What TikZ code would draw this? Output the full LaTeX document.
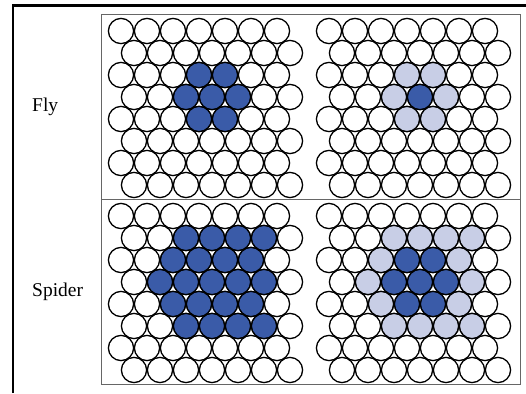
\documentclass[tikz,border=0pt]{standalone}
\usepackage{fontspec}
\setmainfont{Liberation Serif}
\definecolor{dkblue}{RGB}{58,91,168}
\definecolor{ltblue}{RGB}{200,206,230}
\newcommand\hexgrid[2]{%
  \foreach \r in {1,...,8}{\foreach \c in {1,...,7}{%
    \pgfmathsetmacro\cx{#1+(\c-1)*26+13*(1-mod(\r,2))}%
    \pgfmathsetmacro\cy{#2+(\r-1)*22}%
    \draw[disc,fill=white] (\cx,\cy) circle[radius=12.6pt];
  }}}
\newcommand\hexcells[4]{%
  \foreach \r/\c in {#3}{%
    \pgfmathsetmacro\cx{#1+(\c-1)*26+13*(1-mod(\r,2))}%
    \pgfmathsetmacro\cy{#2+(\r-1)*22}%
    \draw[disc,fill=#4] (\cx,\cy) circle[radius=12.6pt];
  }}
\begin{document}
\begin{tikzpicture}[x=1pt,y=-1pt,
  disc/.style={draw=black,line width=1.3pt},
  panel/.style={draw=black!60,line width=0.9pt,fill=white},
  rulebar/.style={line width=2.6pt,draw=black,line join=miter},
  rowlabel/.style={font=\fontsize{19.5}{22}\selectfont,anchor=base west,inner sep=0pt}]
\useasboundingbox (0,0) rectangle (526,393);
\fill[white] (0,0) rectangle (526,393);
% outer rules
\coordinate (ruleBL) at (13,393);
\coordinate (ruleTL) at (13,5.5);
\coordinate (ruleTR) at (526,5.5);
\draw[rulebar] (ruleBL) -- (ruleTL) -- (ruleTR);
% panels
\draw[panel] (101,14) rectangle (520,199);
\draw[panel] (101,199) rectangle (520,384);
% labels
\node[rowlabel] (fly) at (32,111) {Fly};
\node[rowlabel] (spider) at (32,296.5) {Spider};
% Fly left
\hexgrid{121}{31}
\hexcells{121}{31}{3/4,3/5,4/3,4/4,4/5,5/4,5/5}{dkblue}
% Fly right
\hexgrid{329}{31}
\hexcells{329}{31}{3/4,3/5,4/3,4/5,5/4,5/5}{ltblue}
\hexcells{329}{31}{4/4}{dkblue}
% Spider left
\hexgrid{121}{216}
\hexcells{121}{216}{2/3,2/4,2/5,2/6,3/3,3/4,3/5,3/6,4/2,4/3,4/4,4/5,4/6,5/3,5/4,5/5,5/6,6/3,6/4,6/5,6/6}{dkblue}
% Spider right
\hexgrid{329}{216}
\hexcells{329}{216}{2/3,2/4,2/5,2/6,3/3,3/6,4/2,4/6,5/3,5/6,6/3,6/4,6/5,6/6}{ltblue}
\hexcells{329}{216}{3/4,3/5,4/3,4/4,4/5,5/4,5/5}{dkblue}
\end{tikzpicture}
\end{document}
